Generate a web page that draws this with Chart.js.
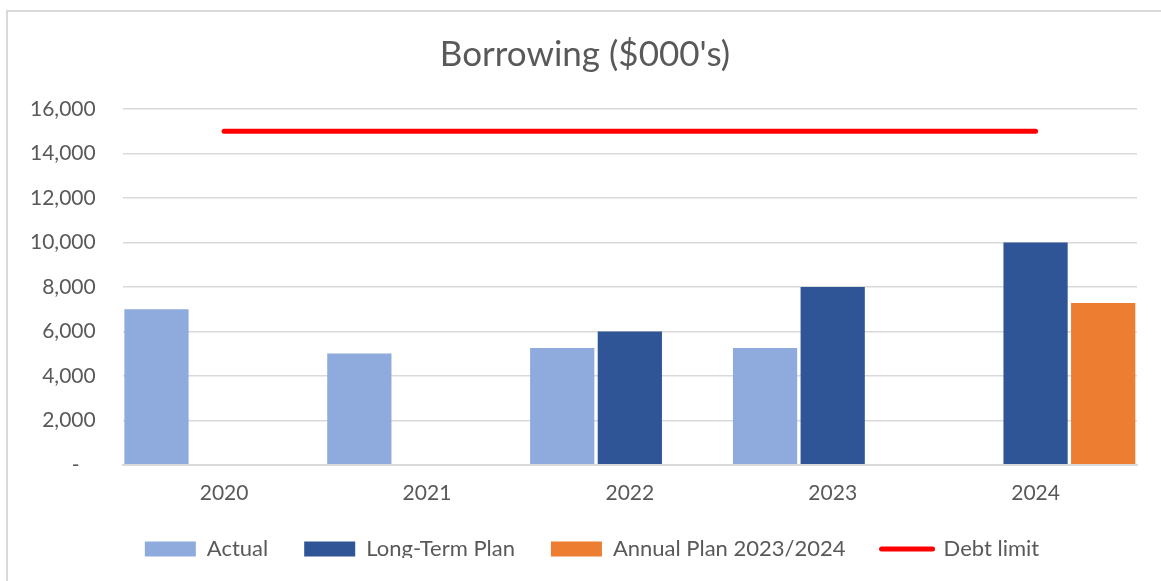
<!DOCTYPE html>
<html lang="en">
<head>
    <meta charset="UTF-8">
    <title>Borrowing ($000's)</title>
    <style>
        body {
            margin: 0;
            background: #fff;
            font-family: 'Lato', sans-serif;
        }

        .wrap {
            position: relative;
            width: 1161px;
            height: 581px;
            overflow: hidden;
        }

        /* marco gris del gráfico (solo se ven los lados izq. y sup.) */
        .frame {
            position: absolute;
            left: 6px;
            top: 10px;
            width: 1170px;
            height: 590px;
            border: 2px solid #d9d9d9;
        }

        canvas {
            position: absolute;
            left: 0;
            top: 0;
        }
    </style>
</head>
<body>
    <div class="wrap">
        <div class="frame"></div>
        <canvas id="borrowChart" width="1161" height="581"></canvas>
    </div>

    <script src="https://cdn.jsdelivr.net/npm/chart.js"></script>
    <script>
        // Datos
        const years = ['2020', '2021', '2022', '2023', '2024'];
        const actual = [7000, 5000, 5250, 5250, null];
        const longTermPlan = [null, null, 6000, 8000, 10000];
        const annualPlan = [null, null, null, null, 7280];
        const debtLimit = [15000, 15000, 15000, 15000, 15000];
        const yTicks = [0, 2000, 4000, 6000, 8000, 10000, 12000, 14000, 16000];

        const textColor = '#595959';
        const gridColor = '#d9d9d9';

        // recoloca título y leyenda (centrados sobre todo el marco, leyenda más pegada al eje)
        const boxShift = {
            id: 'boxShift',
            afterLayout: function (chart) {
                chart.legend.top -= 12;
                chart.legend.bottom -= 12;
                chart.legend.left += 22;
                chart.legend.right += 22;
                chart.titleBlock.left += 15;
                chart.titleBlock.right += 15;
            }
        };

        const ctx = document.getElementById('borrowChart').getContext('2d');
        const borrowChart = new Chart(ctx, {
            type: 'bar',
            data: {
                labels: years,
                datasets: [
                    {
                        label: 'Actual',
                        data: actual,
                        backgroundColor: '#8faadc',
                        barPercentage: 0.95,
                        categoryPercentage: 1,
                        order: 2
                    },
                    {
                        label: 'Long-Term Plan',
                        data: longTermPlan,
                        backgroundColor: '#2f5597',
                        barPercentage: 0.95,
                        categoryPercentage: 1,
                        order: 2
                    },
                    {
                        label: 'Annual Plan 2023/2024',
                        data: annualPlan,
                        backgroundColor: '#ed7d31',
                        barPercentage: 0.95,
                        categoryPercentage: 1,
                        order: 2
                    },
                    {
                        type: 'line',
                        label: 'Debt limit',
                        data: debtLimit,
                        borderColor: '#ff0000',
                        backgroundColor: '#ff0000',
                        borderWidth: 5,
                        borderCapStyle: 'round',
                        pointRadius: 0,
                        fill: false,
                        order: 1
                    }
                ]
            },
            plugins: [boxShift],
            options: {
                responsive: false,
                animation: false,
                layout: {
                    padding: { left: 3, right: 24, top: 10, bottom: 11 }
                },
                scales: {
                    x: {
                        grid: { display: false },
                        border: { color: gridColor, width: 2 },
                        ticks: {
                            color: textColor,
                            font: { family: 'Lato', size: 21 },
                            padding: 8
                        }
                    },
                    y: {
                        min: 0,
                        max: 16000,
                        afterBuildTicks: function (scale) {
                            scale.ticks = yTicks.map(v => ({ value: v }));
                        },
                        grid: {
                            color: gridColor,
                            lineWidth: 1.5,
                            drawTicks: false
                        },
                        border: { display: false },
                        ticks: {
                            color: textColor,
                            font: { family: 'Lato', size: 21 },
                            padding: 27,
                            callback: function (value) {
                                return value === 0 ? '-   ' : value.toLocaleString('en-US');
                            }
                        }
                    }
                },
                plugins: {
                    title: {
                        display: true,
                        text: "Borrowing ($000's)",
                        color: textColor,
                        font: { family: 'Lato', size: 35, weight: 'normal' },
                        padding: { top: 24, bottom: 33 }
                    },
                    tooltip: { enabled: false },
                    legend: {
                        position: 'bottom',
                        maxHeight: 56,
                        labels: {
                            color: textColor,
                            font: { family: 'Lato', size: 22 },
                            usePointStyle: true,
                            pointStyleWidth: 51,
                            boxHeight: 15,
                            padding: 36,
                            generateLabels: function (chart) {
                                return chart.data.datasets.map(function (ds, i) {
                                    const isLine = ds.type === 'line';
                                    return {
                                        text: ds.label,
                                        fillStyle: ds.backgroundColor,
                                        strokeStyle: isLine ? ds.borderColor : ds.backgroundColor,
                                        lineWidth: isLine ? 5 : 0,
                                        lineCap: 'round',
                                        pointStyle: isLine ? 'line' : 'rect',
                                        fontColor: textColor,
                                        datasetIndex: i,
                                        hidden: false
                                    };
                                });
                            }
                        }
                    }
                }
            }
        });
    </script>
</body>
</html>
